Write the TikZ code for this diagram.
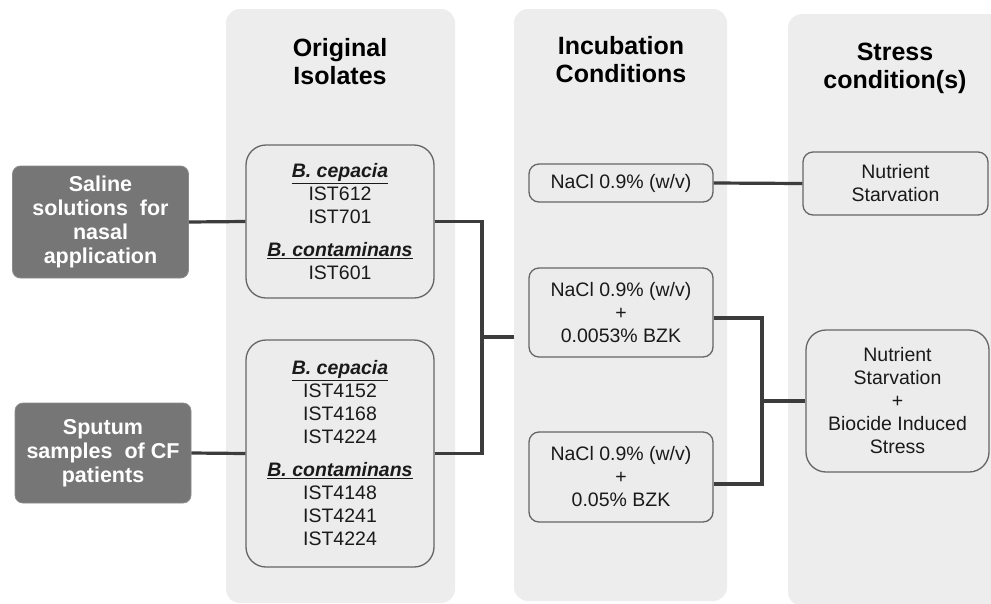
\documentclass[tikz,border=0pt]{standalone}
\usepackage{fontspec}
\setmainfont{Liberation Sans}
\definecolor{colbg}{HTML}{EDEDED}
\definecolor{boxbg}{HTML}{ECECEC}
\definecolor{boxline}{HTML}{666666}
\definecolor{srcbg}{HTML}{767676}
\definecolor{connc}{HTML}{3C3C3C}
\definecolor{txt}{HTML}{1A1A1A}
\begin{document}
\begin{tikzpicture}[x=1pt,y=-1pt,
  col/.style={fill=colbg,draw=none,rounded corners=14pt},
  coltitle/.style={align=center,text=black,font=\fontsize{25}{28}\selectfont\bfseries},
  src/.style={fill=srcbg,draw=srcbg!85!white,line width=0.8pt,rounded corners=8pt,text=white,align=center,
    font=\fontsize{21.5}{24}\selectfont\bfseries,inner sep=0pt,minimum width=176pt},
  iso/.style={fill=boxbg,draw=boxline,line width=1.3pt,rounded corners=20pt,text=txt,align=center,
    font=\fontsize{19.5}{23}\selectfont,inner sep=0pt},
  inc/.style={fill=boxbg,draw=boxline,line width=1.3pt,rounded corners=10pt,text=txt,align=center,
    font=\fontsize{19.5}{23}\selectfont,inner sep=0pt,minimum width=184pt},
  conn/.style={draw=connc,line width=3.2pt}]
\clip (0,0) rectangle (991,603);
\fill[white] (0,0) rectangle (991,603);
% columns
\node[col,minimum width=229pt,minimum height=594pt,inner sep=0pt] (c1) at (340.5,306) {};
\node[col,minimum width=213pt,minimum height=592pt,inner sep=0pt] (c2) at (620.5,305) {};
\node[col,minimum width=230pt,minimum height=592pt,inner sep=0pt] (c3) at (903,310) {};
% titles
\node[coltitle] (t1) at (340,62) {Original\\Isolates};
\node[coltitle] (t2) at (621,60) {Incubation\\Conditions};
\node[coltitle] (t3) at (895,68) {Stress\\condition(s)};
% sources
\node[src,minimum height=112pt] (s1) at (100.5,222) {Saline\\solutions\ \ for\\nasal\\application};
\node[src,minimum height=100pt] (s2) at (103,453) {Sputum\\samples\ \ of CF\\patients};
% isolates
\node[iso,minimum width=188pt,minimum height=153pt] (i1) at (340,221.5)
  {\underline{\textbf{\textit{B. cepacia}}}\\IST612\\IST701\\[10pt]\underline{\textbf{\textit{B. contaminans}}}\\IST601};
\node[iso,minimum width=188pt,minimum height=227pt] (i2) at (340,453.5)
  {\underline{\textbf{\textit{B. cepacia}}}\\IST4152\\IST4168\\IST4224\\[10pt]\underline{\textbf{\textit{B. contaminans}}}\\IST4148\\IST4241\\IST4224};
% incubation
\node[inc,minimum height=38pt] (n1) at (621,183) {NaCl 0.9\% (w/v)};
\node[inc,minimum height=89pt] (n2) at (621,312.5) {NaCl 0.9\% (w/v)\\+\\0.0053\% BZK};
\node[inc,minimum height=90pt] (n3) at (621,477) {NaCl 0.9\% (w/v)\\+\\0.05\% BZK};
% stress
\node[inc,minimum width=185pt,minimum height=63pt] (r1) at (895.5,183.5) {Nutrient\\Starvation};
\node[inc,rounded corners=20pt,minimum width=183pt,minimum height=142pt] (r2) at (897.5,401) {Nutrient\\Starvation\\+\\Biocide Induced\\Stress};
% connectors
\coordinate (j1) at (514,337);
\draw[conn] (s1.east) -- (i1.west);
\draw[conn] (s2.east) -- (i2.west);
\draw[conn] (i1.east) -| (482,337) |- (i2.east);
\draw[conn] (482,337) -- (j1);
\draw[conn] (n1.east) -- (r1.west);
\draw[conn] ([yshift=-5.5pt]n2.east) -| (762,401) |- ([yshift=-7pt]n3.east);
\draw[conn] (762,401) -- (r2.west);
\end{tikzpicture}
\end{document}
